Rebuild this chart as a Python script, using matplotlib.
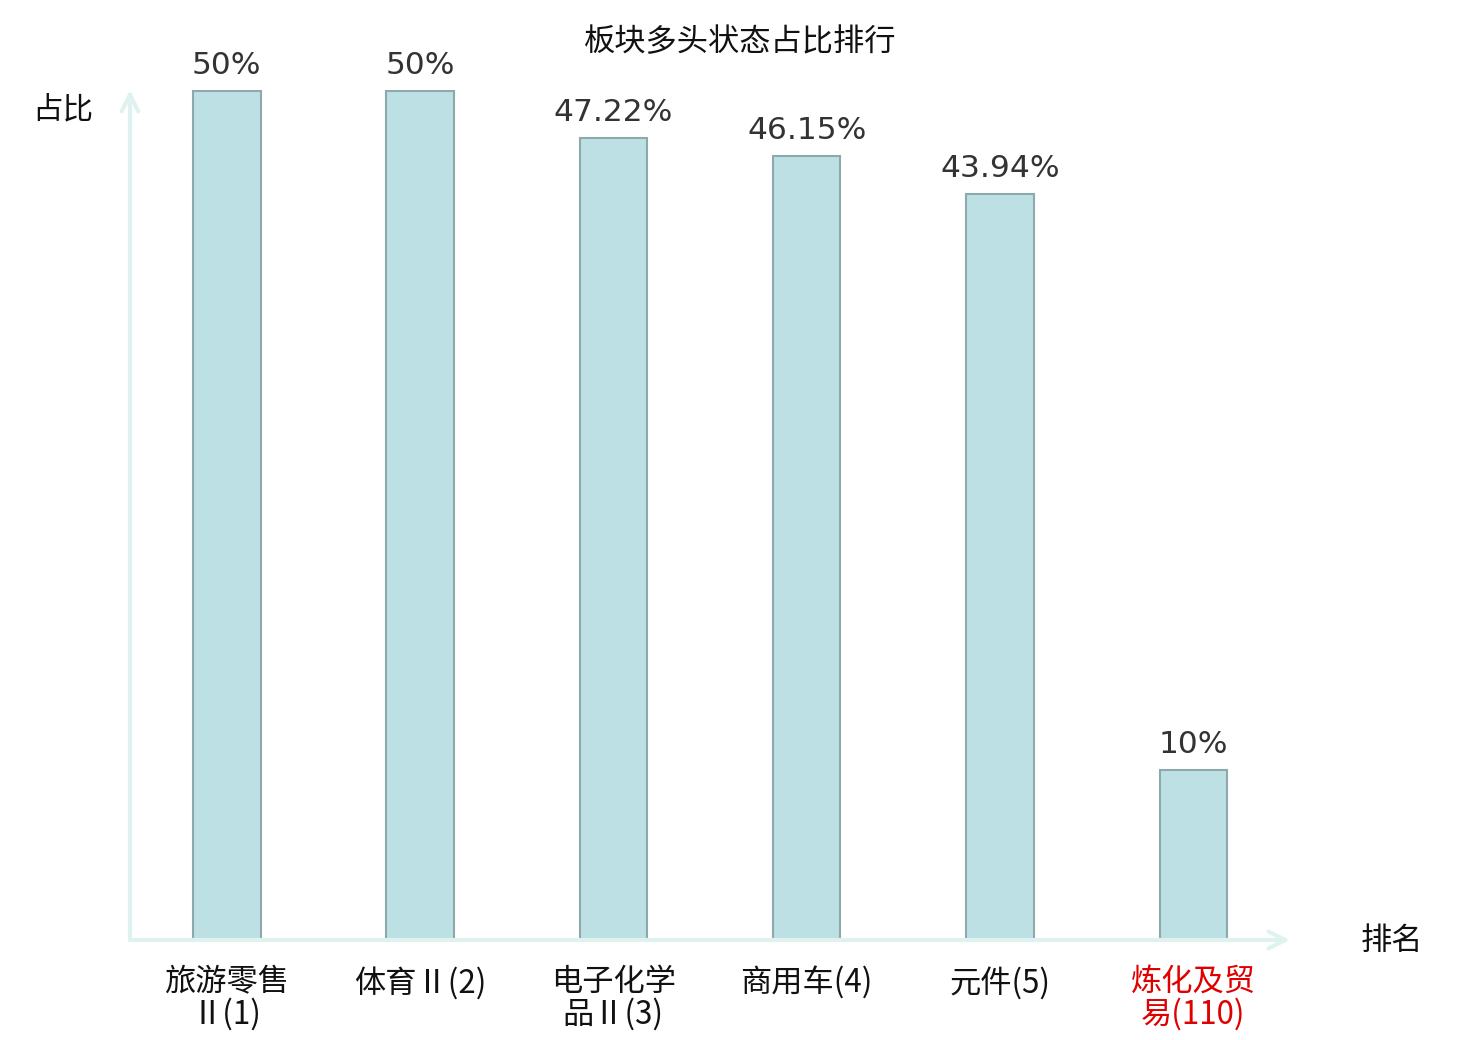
import matplotlib
matplotlib.use("Agg")
import matplotlib.pyplot as plt

plt.rcParams['font.family'] = ['Noto Sans CJK SC', 'DejaVu Sans']

# data
sectors = ["旅游零售\nⅡ(1)", "体育Ⅱ(2)", "电子化学\n品Ⅱ(3)", "商用车(4)", "元件(5)", "炼化及贸\n易(110)"]
ratios = [50, 50, 47.22, 46.15, 43.94, 10]
highlight = [False, False, False, False, False, True]

bar_color = '#bce0e3'
edge_color = '#8ea9ab'
axis_color = '#dff2ef'

fig = plt.figure(figsize=(14.8, 10.4), dpi=100)
ax = fig.add_axes([130 / 1480, 100 / 1040, 1160 / 1480, 850 / 1040])

x = list(range(len(sectors)))
ax.bar(x, ratios, width=0.35, color=bar_color, edgecolor=edge_color, linewidth=1.5, zorder=2)

for xi, v in zip(x, ratios):
    ax.annotate(f"{v:g}%", (xi, v), xytext=(0, 8), textcoords='offset points',
                ha='center', va='bottom', fontsize=22.5, color='#333333',
                family=['DejaVu Sans'])

ax.set_xlim(-0.5, 5.5)
ax.set_ylim(0, 50.05)
for s in ax.spines.values():
    s.set_visible(False)
ax.set_yticks([])
ax.set_xticks(x)
ax.set_xticklabels(sectors, fontsize=22.5, linespacing=1.0)
ax.tick_params(axis='x', length=0, pad=19)
for lab, hl in zip(ax.get_xticklabels(), highlight):
    lab.set_color('#e00000' if hl else '#111111')

# axis arrows
ax.annotate('', xy=(0, 1.0), xytext=(0, 0), xycoords='axes fraction',
            arrowprops=dict(arrowstyle='->', color=axis_color, lw=3, mutation_scale=30,
                            shrinkA=0, shrinkB=0), annotation_clip=False)
ax.annotate('', xy=(1.0, 0), xytext=(0, 0), xycoords='axes fraction',
            arrowprops=dict(arrowstyle='->', color=axis_color, lw=3, mutation_scale=30,
                            shrinkA=0, shrinkB=0), annotation_clip=False)

fig.text(740 / 1480, 1 - 42 / 1040, "板块多头状态占比排行", ha='center', va='center',
         fontsize=22.5, color='#111111')
fig.text(63 / 1480, 1 - 110 / 1040, "占比", ha='center', va='center', fontsize=22, color='#111111')
fig.text(1392 / 1480, 1 - 941 / 1040, "排名", ha='center', va='center', fontsize=22.5, color='#111111')

fig.savefig("out.png", dpi=100, facecolor='white')
